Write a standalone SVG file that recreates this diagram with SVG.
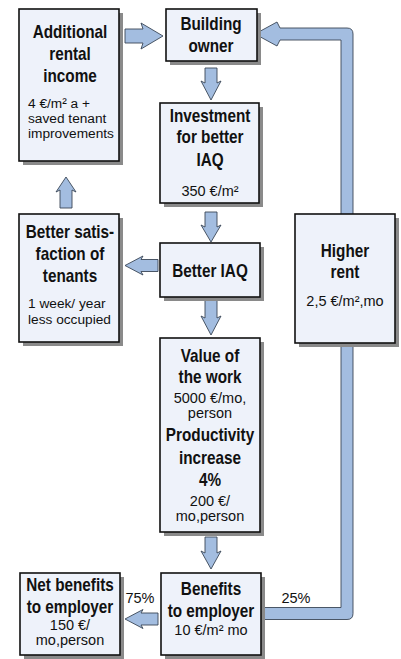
<svg xmlns="http://www.w3.org/2000/svg" width="401" height="659" viewBox="0 0 401 659">
<style>
.bg{fill:#ffffff}
.sh{fill:#8a8a8a}
.box{fill:#eef2fa;stroke:#111;stroke-width:1.6}
.ar{fill:#a3bde0;stroke:#3a4656;stroke-width:0.9;stroke-linejoin:miter}
.b{font-family:"Liberation Sans",Arial,sans-serif;font-weight:bold;font-size:18px;fill:#111;text-anchor:middle}
.r{font-family:"Liberation Sans",Arial,sans-serif;font-size:14.5px;fill:#111;text-anchor:middle}
.s{font-size:13.7px}
.l{text-anchor:start}
</style>
<rect class="bg" x="0" y="0" width="401" height="659"/>
<g id="connectors">
  <path class="ar" d="M261 607.5 L341 607.5 L341 40 L280 40 L277 46 L255 34 L277 22 L280 28 L347 28 Q353 28 353 34 L353 613.5 Q353 619.5 347 619.5 L261 619.5 Z"/>
  <polygon class="ar" points="125,29 143,29 141,23 163,36 141,49 143,43 125,43"/>
  <polygon class="ar" points="205,68 217,68 217,83 221,81 211,100 201,81 205,83"/>
  <polygon class="ar" points="205,212 217,212 217,227 221,225 211,242 201,225 205,227"/>
  <polygon class="ar" points="205,300 217,300 217,318 221,316 211,335 201,316 205,318"/>
  <polygon class="ar" points="205,537 217,537 217,553 221,551 211,569 201,551 205,553"/>
  <polygon class="ar" points="60,208 72,208 72,190 76,192 66,177 56,192 60,190"/>
  <polygon class="ar" points="158,259.5 141,259.5 143,256 125,265.5 143,275 141,271.5 158,271.5"/>
  <polygon class="ar" points="158,613 141,613 143,609.5 125,619 143,628.5 141,625 158,625"/>
</g>
<g id="additional">
  <rect class="sh" x="23" y="13" width="100" height="152"/>
  <rect class="box" x="19" y="9" width="100" height="152"/>
  <text class="b" transform="translate(70,38) scale(0.85,1)">Additional</text>
  <text class="b" transform="translate(70,60) scale(0.85,1)">rental</text>
  <text class="b" transform="translate(70,82) scale(0.85,1)">income</text>
  <text class="r s l" x="28" y="108">4 €/m² a +</text>
  <text class="r s l" x="28" y="123">saved tenant</text>
  <text class="r s l" x="28" y="138">improvements</text>
</g>
<g id="owner">
  <rect class="sh" x="170" y="13" width="91" height="52"/>
  <rect class="box" x="166" y="9" width="91" height="52"/>
  <text class="b" transform="translate(211,30) scale(0.85,1)">Building</text>
  <text class="b" transform="translate(211,52) scale(0.85,1)">owner</text>
</g>
<g id="investment">
  <rect class="sh" x="164" y="107" width="99" height="100"/>
  <rect class="box" x="160" y="103" width="99" height="100"/>
  <text class="b" transform="translate(210,122) scale(0.85,1)">Investment</text>
  <text class="b" transform="translate(210,143) scale(0.85,1)">for better</text>
  <text class="b" transform="translate(210,166) scale(0.85,1)">IAQ</text>
  <text class="r" x="210" y="196">350 €/m²</text>
</g>
<g id="satisfaction">
  <rect class="sh" x="23" y="218" width="100" height="128"/>
  <rect class="box" x="19" y="214" width="100" height="128"/>
  <text class="b" transform="translate(70,238) scale(0.85,1)">Better satis-</text>
  <text class="b" transform="translate(70,260) scale(0.85,1)">faction of</text>
  <text class="b" transform="translate(70,282) scale(0.85,1)">tenants</text>
  <text class="r s l" x="28" y="308">1 week/ year</text>
  <text class="r s l" x="28" y="324">less occupied</text>
</g>
<g id="iaq">
  <rect class="sh" x="164" y="247" width="100" height="54"/>
  <rect class="box" x="160" y="243" width="100" height="54"/>
  <text class="b" transform="translate(210,277) scale(0.85,1)">Better IAQ</text>
</g>
<g id="rent">
  <rect class="sh" x="299" y="218" width="100" height="129"/>
  <rect class="box" x="295" y="214" width="100" height="129"/>
  <text class="b" transform="translate(345,257) scale(0.85,1)">Higher</text>
  <text class="b" transform="translate(345,278) scale(0.85,1)">rent</text>
  <text class="r" x="345" y="306">2,5 €/m²,mo</text>
</g>
<g id="value">
  <rect class="sh" x="164" y="342" width="100" height="194"/>
  <rect class="box" x="160" y="338" width="100" height="194"/>
  <text class="b" transform="translate(210,362) scale(0.85,1)">Value of</text>
  <text class="b" transform="translate(210,383) scale(0.85,1)">the work</text>
  <text class="r" x="210" y="403">5000 €/mo,</text>
  <text class="r" x="210" y="418">person</text>
  <text class="b" transform="translate(210,441) scale(0.85,1)">Productivity</text>
  <text class="b" transform="translate(210,464) scale(0.85,1)">increase</text>
  <text class="b" transform="translate(210,486) scale(0.85,1)">4%</text>
  <text class="r" x="210" y="506">200 €/</text>
  <text class="r" x="210" y="521">mo,person</text>
</g>
<g id="benefits">
  <rect class="sh" x="165" y="577" width="100" height="82"/>
  <rect class="box" x="161" y="573" width="100" height="82"/>
  <text class="b" transform="translate(211,595) scale(0.85,1)">Benefits</text>
  <text class="b" transform="translate(211,617) scale(0.85,1)">to employer</text>
  <text class="r" x="211" y="635">10 €/m² mo</text>
</g>
<g id="net">
  <rect class="sh" x="24" y="577" width="100" height="82"/>
  <rect class="box" x="20" y="573" width="100" height="82"/>
  <text class="b" transform="translate(70,591) scale(0.85,1)">Net benefits</text>
  <text class="b" transform="translate(70,613) scale(0.85,1)">to employer</text>
  <text class="r" x="70" y="630">150 €/</text>
  <text class="r" x="70" y="645">mo,person</text>
</g>
<g id="labels">
  <text class="r" x="140" y="603">75%</text>
  <text class="r" x="296" y="603">25%</text>
</g>
</svg>
